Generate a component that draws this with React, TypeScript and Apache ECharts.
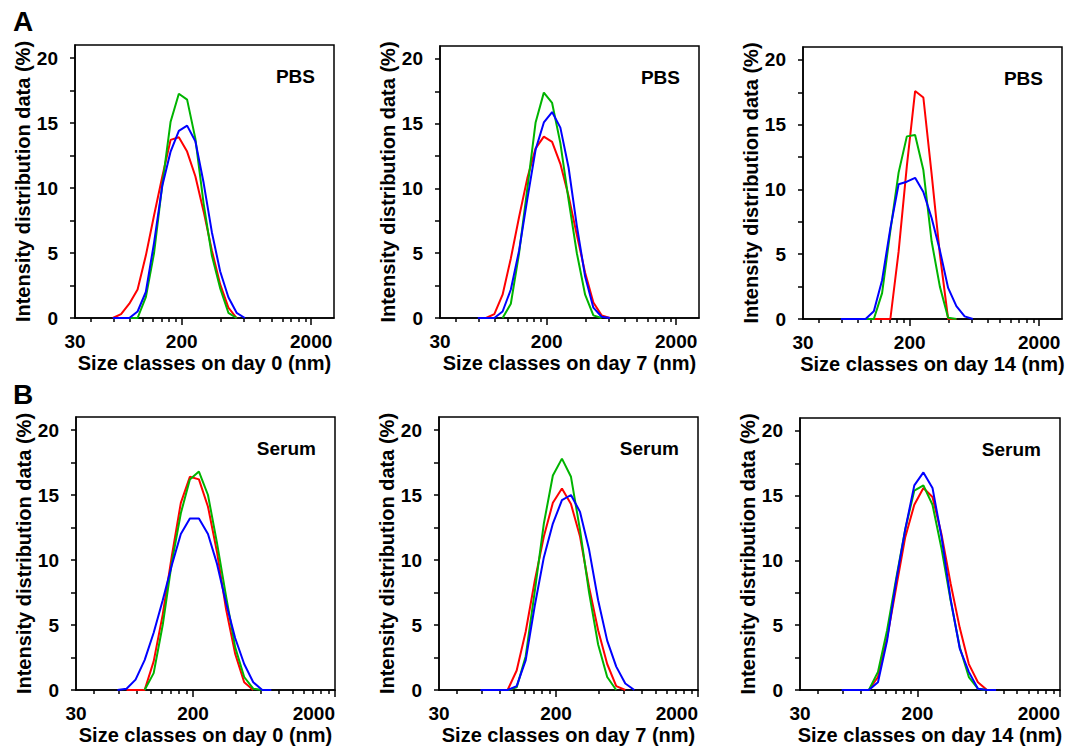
import React, { useEffect, useRef } from "react";
import * as echarts from "echarts";

// DLS size classes (nm)
const SIZES = [43.82, 50.75, 58.77, 68.06, 78.82, 91.28, 105.7, 122.4, 141.8, 164.2, 190.1, 220.2, 255.0, 295.3, 342.0, 396.1, 458.7, 531.2, 615.1, 712.4];

// A: PBS
const PBS_D0_RED = [null, null, 0, 0.3, 1.1, 2.2, 4.8, 7.9, 10.9, 13.7, 13.9, 12.8, 10.9, 8.2, 5.2, 2.6, 0.8, 0, null, null];
const PBS_D0_GREEN = [null, null, null, null, 0, 0, 1.6, 5.0, 10.3, 15.1, 17.25, 16.8, 13.8, 8.8, 4.8, 2.3, 0.4, 0, null, null];
const PBS_D0_BLUE = [null, null, 0, 0, 0, 0.5, 2.0, 5.8, 10.2, 12.8, 14.4, 14.8, 13.6, 10.4, 6.6, 3.6, 1.6, 0.4, 0, null];

const PBS_D7_RED = [null, null, null, 0, 0.3, 1.8, 4.6, 7.8, 10.8, 13.1, 14.0, 13.6, 11.9, 9.4, 6.4, 3.5, 1.2, 0.2, 0, null];
const PBS_D7_GREEN = [null, null, null, null, null, 0, 1.1, 5.0, 10.0, 15.1, 17.4, 16.6, 13.5, 9.1, 5.0, 1.8, 0.2, 0, null, null];
const PBS_D7_BLUE = [null, null, 0, 0, 0, 0.5, 2.2, 5.2, 9.2, 13.0, 15.1, 15.9, 14.7, 11.6, 7.1, 3.2, 0.8, 0.1, 0, null];

const PBS_D14_RED = [null, null, null, null, null, 0, 0, 0, 0, 5.2, 11.8, 17.6, 17.1, 11.2, 5.0, 0, 0, null, null, null];
const PBS_D14_GREEN = [null, null, null, null, null, 0, 0, 2.0, 6.8, 11.3, 14.1, 14.2, 11.5, 6.0, 2.5, 0.1, 0, null, null, null];
const PBS_D14_BLUE = [null, null, 0, 0, 0, 0, 0.6, 3.0, 7.0, 10.4, 10.6, 10.9, 9.8, 7.8, 5.3, 2.4, 1.0, 0.2, 0, null];

// B: Serum
const SER_D0_RED = [null, null, null, 0, 0, 0, 2.2, 5.8, 10.3, 14.4, 16.4, 16.2, 14.1, 10.6, 6.2, 2.8, 0.6, 0, null, null];
const SER_D0_GREEN = [null, null, null, null, null, 0, 1.3, 5.0, 9.8, 13.6, 16.2, 16.8, 15.0, 11.3, 7.2, 3.3, 1.0, 0.1, 0, null];
const SER_D0_BLUE = [null, null, 0, 0.1, 0.8, 2.3, 4.4, 6.9, 9.6, 12.0, 13.2, 13.2, 12.0, 9.7, 6.7, 4.0, 2.0, 0.6, 0, 0];

const SER_D7_RED = [null, null, null, 0, 0, 0, 1.5, 4.5, 8.4, 11.8, 14.4, 15.5, 14.3, 11.8, 7.9, 4.6, 2.0, 0.3, 0, null];
const SER_D7_GREEN = [null, null, null, null, null, 0, 0.2, 2.6, 7.6, 12.8, 16.5, 17.8, 16.4, 12.3, 7.5, 3.5, 1.0, 0, null, null];
const SER_D7_BLUE = [null, null, 0, 0, 0, 0, 0.3, 2.3, 6.5, 10.2, 12.8, 14.6, 15.0, 13.7, 10.8, 6.9, 3.8, 1.8, 0.5, 0];

const SER_D14_RED = [null, null, null, null, null, 0, 1.0, 4.0, 7.9, 11.8, 14.3, 15.6, 14.9, 12.0, 8.2, 4.8, 2.0, 0.6, 0, null];
const SER_D14_GREEN = [null, null, null, null, null, 0, 1.4, 4.6, 8.6, 12.4, 15.4, 15.8, 14.3, 10.9, 6.9, 3.3, 1.0, 0.1, 0, null];
const SER_D14_BLUE = [null, null, 0, 0, 0, 0, 0.6, 3.8, 8.4, 12.4, 15.8, 16.8, 15.6, 11.8, 7.0, 3.2, 1.4, 0.1, 0, 0];

const X_LABELS = [30, 200, 2000];
const X_MAJOR_TICKS = [200, 2000];
const X_MINOR_TICKS = [40, 60, 80, 100, 120, 140, 160, 180, 400, 600, 800, 1000, 1200, 1400, 1600, 1800];
const Y_TICKS = [0, 2.5, 5, 7.5, 10, 12.5, 15, 17.5, 20];
const Y_LABELS = [0, 5, 10, 15, 20];
const DAYS = [0, 7, 14];
const MEDIA = ["PBS", "Serum"];
const PANEL_LETTERS = ["A", "B"];
const X_MAX_BY_ROW = [3000, 2000];

const PANEL_DATA = [
  [PBS_D0_RED, PBS_D0_GREEN, PBS_D0_BLUE],
  [PBS_D7_RED, PBS_D7_GREEN, PBS_D7_BLUE],
  [PBS_D14_RED, PBS_D14_GREEN, PBS_D14_BLUE],
  [SER_D0_RED, SER_D0_GREEN, SER_D0_BLUE],
  [SER_D7_RED, SER_D7_GREEN, SER_D7_BLUE],
  [SER_D14_RED, SER_D14_GREEN, SER_D14_BLUE],
];

const COLORS = ["#ff0000", "#00b400", "#0000ff"];
const FONT = '"Liberation Sans", Arial, Helvetica, sans-serif';

const BOXES = [
  { left: 75, top: 45, width: 259, height: 273 },
  { left: 440, top: 46, width: 259, height: 272 },
  { left: 803, top: 47, width: 259, height: 272 },
  { left: 76, top: 417, width: 259, height: 273 },
  { left: 439, top: 417, width: 259, height: 273 },
  { left: 800, top: 418, width: 260, height: 272 },
];

function buildOption() {
  const grid: any[] = [];
  const xAxis: any[] = [];
  const yAxis: any[] = [];
  const series: any[] = [];
  const graphic: any[] = [];

  BOXES.forEach((b, i) => {
    const row = Math.floor(i / 3);
    const col = i % 3;
    const xMax = X_MAX_BY_ROW[row];
    grid.push({
      ...b,
      show: true,
      borderColor: "#000",
      borderWidth: 1.5,
      backgroundColor: "transparent",
      containLabel: false,
      outerBoundsMode: "none",
    });
    xAxis.push({
      type: "log",
      logBase: 10,
      gridIndex: i,
      min: 30,
      max: xMax,
      position: "bottom",
      name: `Size classes on day ${DAYS[col]} (nm)`,
      nameLocation: "middle",
      nameGap: 35,
      nameTextStyle: { fontSize: 20, fontWeight: "bold", fontFamily: FONT, color: "#000" },
      axisLine: { show: true, onZero: false, lineStyle: { color: "#000", width: 1.5 } },
      axisTick: { show: true, inside: false, length: 7, customValues: X_MAJOR_TICKS, lineStyle: { color: "#000", width: 1.5 } },
      axisLabel: {
        show: true,
        customValues: X_LABELS,
        formatter: (v: number) => String(Math.round(v)),
        fontSize: 19,
        fontWeight: "bold",
        fontFamily: FONT,
        color: "#000",
        margin: 14,
        alignMaxLabel: row === 1 ? "right" : null,
        showMinLabel: true,
        showMaxLabel: true,
      },
      splitLine: { show: false },
    });
    xAxis.push({
      type: "log",
      logBase: 10,
      gridIndex: i,
      min: 30,
      max: xMax,
      position: "bottom",
      axisLine: { show: false, onZero: false },
      axisTick: { show: true, inside: false, length: 4, customValues: X_MINOR_TICKS, lineStyle: { color: "#000", width: 1.5 } },
      axisLabel: { show: false },
      splitLine: { show: false },
    });
    yAxis.push({
      type: "value",
      gridIndex: i,
      min: 0,
      max: 21,
      name: "Intensity distribution data (%)",
      nameLocation: "middle",
      nameGap: 42,
      nameTextStyle: { fontSize: 20, fontWeight: "bold", fontFamily: FONT, color: "#000" },
      axisLine: { show: true, onZero: false, lineStyle: { color: "#000", width: 1.5 } },
      axisTick: { show: true, inside: false, length: 5, customValues: Y_TICKS, lineStyle: { color: "#000", width: 1.5 } },
      axisLabel: {
        show: true,
        customValues: Y_LABELS,
        fontSize: 19,
        fontWeight: "bold",
        fontFamily: FONT,
        color: "#000",
        margin: 17,
      },
      splitLine: { show: false },
    });
    PANEL_DATA[i].forEach((arr, k) => {
      const data: any[] = [];
      SIZES.forEach((s, j) => {
        if (arr[j] !== null && arr[j] !== undefined) data.push([s, arr[j]]);
      });
      series.push({
        type: "line",
        xAxisIndex: 2 * i,
        yAxisIndex: i,
        data,
        showSymbol: false,
        symbol: "none",
        lineStyle: { color: COLORS[k], width: 2 },
        itemStyle: { color: COLORS[k] },
        z: 3 + k,
        silent: true,
      });
    });
    graphic.push({
      type: "text",
      x: b.left + b.width - 19,
      y: b.top + 31,
      style: {
        text: MEDIA[row],
        align: "right",
        verticalAlign: "middle",
        fontSize: 19,
        fontWeight: "bold",
        fontFamily: FONT,
        fill: "#000",
      },
    });
  });

  PANEL_LETTERS.forEach((t, r) => {
    graphic.push({
      type: "text",
      x: 13,
      y: r === 0 ? 21 : 394,
      style: {
        text: t,
        align: "left",
        verticalAlign: "middle",
        fontSize: 28,
        fontWeight: "bold",
        fontFamily: FONT,
        fill: "#000",
      },
    });
  });

  return {
    animation: false,
    backgroundColor: "#fff",
    grid,
    xAxis,
    yAxis,
    series,
    graphic,
  };
}

export default function App() {
  const ref = useRef<HTMLDivElement>(null);
  useEffect(() => {
    if (!ref.current) return;
    const chart = echarts.init(ref.current, null, { renderer: "svg" });
    chart.setOption(buildOption() as any);
    return () => chart.dispose();
  }, []);
  return (
    <div
      ref={ref}
      style={{ position: "fixed", left: 0, top: 0, width: 1067, height: 751, background: "#fff" }}
    />
  );
}
